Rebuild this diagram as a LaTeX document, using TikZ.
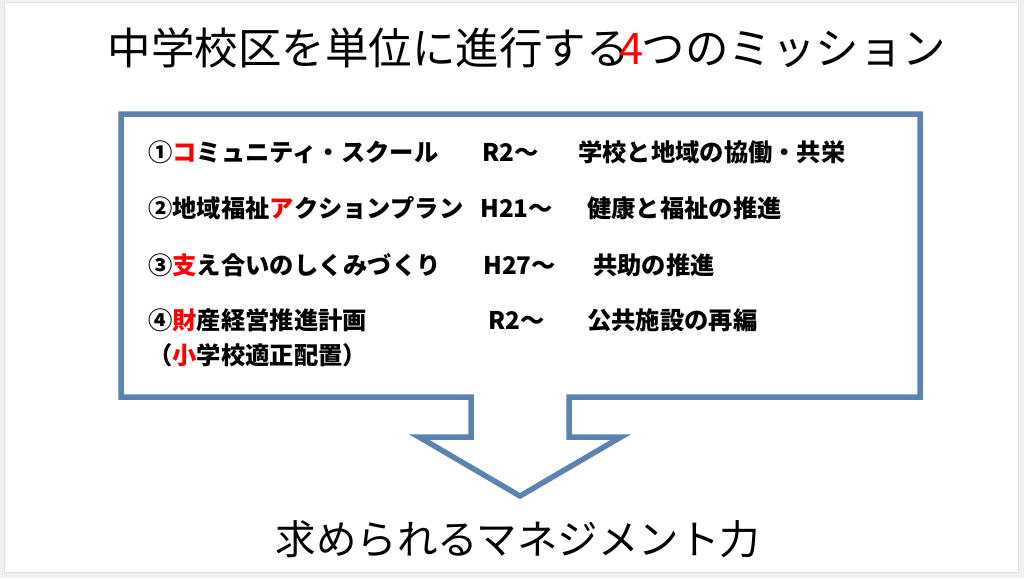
\documentclass[tikz,border=0pt]{standalone}
\usepackage{fontspec}
\setmainfont{Noto Sans CJK JP}
\definecolor{frameblue}{RGB}{91,131,177}
\definecolor{pagegray}{RGB}{240,240,240}
\definecolor{edgegray}{RGB}{225,225,225}
\begin{document}
\begin{tikzpicture}[x=1pt,y=-1pt,
  item/.style={anchor=west, inner sep=0pt, font=\fontsize{24.3}{28}\selectfont\bfseries},
  heading/.style={inner sep=0pt, font=\fontsize{43.5}{50}\selectfont}]
\fill[pagegray] (0,0) rectangle (1024,578);
\draw[edgegray, fill=white, line width=1pt] (4,3) rectangle (1018,572);
\useasboundingbox (0,0) rectangle (1024,578);
% callout with down arrow
\draw[frameblue, line width=5.5pt, line join=miter]
  (121,114) -- (920,114) -- (920,397) -- (569,397) -- (569,437) -- (621,437)
  -- (520,496) -- (419,437) -- (471,437) -- (471,397) -- (121,397) -- cycle;
% title
\node[heading] (title) at (527,48) {中学校区を単位に進行する\kern-10pt\textcolor{red}{4}\kern-2pt つのミッション};
% items
\node[item] (r1a) at (148,152) {①\textcolor{red}{コ}ミュニティ・スクール};
\node[item] (r1b) at (482,152) {R2～};
\node[item] (r1c) at (578,152) {学校と地域の協働・共栄};
\node[item] (r2a) at (148,208) {②地域福祉\textcolor{red}{ア}クションプラン};
\node[item] (r2b) at (480,208) {H21～};
\node[item] (r2c) at (587,208) {健康と福祉の推進};
\node[item] (r3a) at (148,265) {③\textcolor{red}{支}え合いのしくみづくり};
\node[item] (r3b) at (483,265) {H27～};
\node[item] (r3c) at (593,265) {共助の推進};
\node[item] (r4a) at (148,320) {④\textcolor{red}{財}産経営推進計画};
\node[item] (r4b) at (488,320) {R2～};
\node[item] (r4c) at (587,320) {公共施設の再編};
\node[item] (r5a) at (148,355) {（\textcolor{red}{小}学校適正配置）};
% bottom text
\node[heading, font=\fontsize{40.5}{48}\selectfont] (result) at (518,539) {求められるマネジメント力};
\end{tikzpicture}
\end{document}
